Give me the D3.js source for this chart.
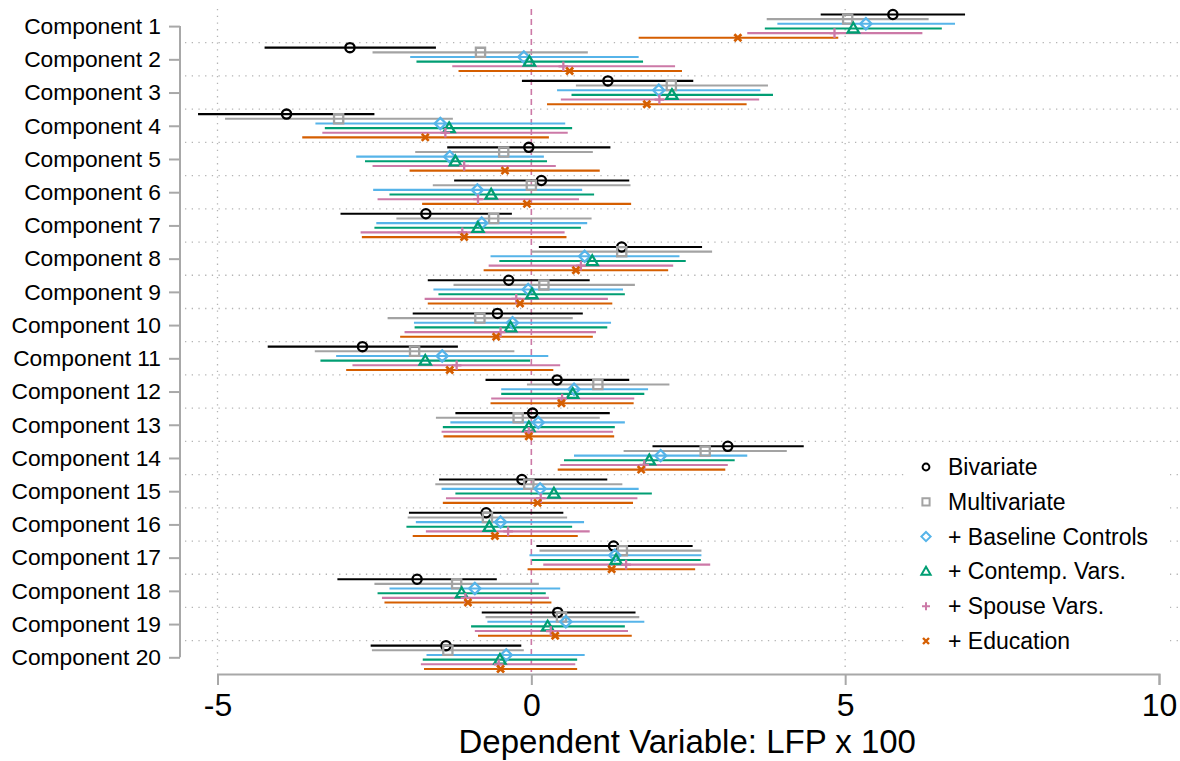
<!DOCTYPE html>
<html><head><meta charset="utf-8">
<script src="https://cdn.jsdelivr.net/npm/d3@7"></script>
<style>
html,body{margin:0;padding:0;background:#fff;}
svg{display:block;font-family:"Liberation Sans",Arial,Helvetica,sans-serif;}
</style></head>
<body>
<svg id="chart" width="1180" height="761"></svg>
<script>
const components = d3.range(1, 21).map(i => "Component " + i);
const seriesNames = ["Bivariate", "Multivariate", "+ Baseline Controls", "+ Contemp. Vars.", "+ Spouse Vars.", "+ Education"];
const xTicks = [-5, 0, 5, 10];
const xGridTicks = [-5, 5];
const xTitle = "Dependent Variable: LFP x 100";

const bivariateEst = [5.76, -2.89, 1.22, -3.90, -0.04, 0.16, -1.68, 1.44, -0.36, -0.54, -2.69, 0.41, 0.02, 3.13, -0.15, -0.72, 1.31, -1.82, 0.42, -1.36];
const bivariateLo  = [4.61, -4.25, -0.15, -5.31, -1.34, -1.23, -3.04, 0.12, -1.65, -1.89, -4.20, -0.73, -1.21, 1.93, -1.47, -1.95, 0.08, -3.09, -0.79, -2.56];
const bivariateHi  = [6.91, -1.52, 2.58, -2.50, 1.26, 1.56, -0.31, 2.72, 0.93, 0.82, -1.17, 1.56, 1.25, 4.34, 1.21, 0.51, 2.57, -0.55, 1.66, -0.16];

const multivariateEst = [5.04, -0.81, 2.23, -3.07, -0.44, 0.00, -0.60, 1.44, 0.20, -0.82, -1.86, 1.06, -0.21, 2.77, -0.04, -0.70, 1.45, -1.19, 0.48, -1.33];
const multivariateLo  = [3.75, -2.53, 0.71, -4.88, -1.85, -1.57, -2.15, 0.00, -1.24, -2.29, -3.45, -0.07, -1.52, 1.47, -1.53, -1.97, 0.13, -2.50, -0.73, -2.54];
const multivariateHi  = [6.33, 0.90, 3.77, -1.25, 0.98, 1.58, 0.96, 2.88, 1.65, 0.66, -0.27, 2.20, 1.09, 4.07, 1.45, 0.57, 2.71, 0.12, 1.72, -0.12];

const baselineEst = [5.33, -0.12, 2.03, -1.45, -1.30, -0.86, -0.79, 0.85, -0.05, -0.30, -1.42, 0.68, 0.11, 2.06, 0.14, -0.49, 1.33, -0.90, 0.55, -0.40];
const baselineLo  = [3.92, -1.93, 0.41, -3.44, -2.79, -2.52, -2.47, -0.65, -1.56, -1.87, -3.11, -0.48, -1.29, 0.68, -1.43, -1.84, -0.03, -2.26, -0.70, -1.67];
const baselineHi  = [6.75, 1.71, 3.65, 0.54, 0.20, 0.81, 0.89, 2.36, 1.46, 1.27, 0.27, 1.86, 1.49, 3.44, 1.71, 0.84, 2.71, 0.46, 1.80, 0.85];

const contempEst = [5.13, -0.03, 2.24, -1.31, -1.21, -0.64, -0.85, 0.97, 0.01, -0.33, -1.69, 0.66, -0.04, 1.88, 0.36, -0.67, 1.35, -1.11, 0.26, -0.50];
const contempLo  = [3.72, -1.83, 0.64, -3.29, -2.65, -2.26, -2.50, -0.51, -1.48, -1.86, -3.36, -0.48, -1.41, 0.52, -1.21, -1.99, 0.01, -2.45, -0.96, -1.73];
const contempHi  = [6.54, 1.78, 3.85, 0.65, 0.25, 1.00, 0.79, 2.46, 1.49, 1.21, -0.02, 1.80, 1.33, 3.24, 1.92, 0.65, 2.70, 0.23, 1.49, 0.73];

const spouseEst = [4.83, 0.51, 2.04, -1.37, -1.07, -0.85, -1.10, 0.79, -0.24, -0.49, -1.19, 0.49, -0.04, 1.80, 0.15, -0.37, 1.51, -1.05, 0.31, -0.52];
const spouseLo  = [3.44, -1.26, 0.47, -3.33, -2.53, -2.45, -2.72, -0.68, -1.70, -2.02, -2.85, -0.64, -1.43, 0.46, -1.36, -1.68, 0.19, -2.38, -0.90, -1.76];
const spouseHi  = [6.23, 2.29, 3.63, 0.58, 0.39, 0.76, 0.53, 2.26, 1.22, 1.03, 0.46, 1.64, 1.30, 3.13, 1.69, 0.93, 2.85, 0.28, 1.54, 0.70];

const educationEst = [3.29, 0.61, 1.84, -1.69, -0.42, -0.07, -1.07, 0.71, -0.18, -0.56, -1.30, 0.48, -0.04, 1.75, 0.10, -0.58, 1.28, -1.01, 0.38, -0.49];
const educationLo  = [1.71, -1.16, 0.25, -3.65, -1.94, -1.74, -2.70, -0.76, -1.65, -2.09, -2.95, -0.65, -1.40, 0.42, -1.41, -1.89, -0.06, -2.34, -0.85, -1.71];
const educationHi  = [4.89, 2.40, 3.43, 0.28, 1.09, 1.59, 0.56, 2.18, 1.29, 0.98, 0.35, 1.63, 1.32, 3.09, 1.62, 0.74, 2.61, 0.32, 1.60, 0.73];

const seriesColors = ["#000000", "#a3a3a3", "#56b4e9", "#009e73", "#cc79a7", "#d55e00"];
const seriesShapes = ["circle", "square", "diamond", "triangle", "plus", "x"];
const seriesData = [
  [bivariateEst, bivariateLo, bivariateHi],
  [multivariateEst, multivariateLo, multivariateHi],
  [baselineEst, baselineLo, baselineHi],
  [contempEst, contempLo, contempHi],
  [spouseEst, spouseLo, spouseHi],
  [educationEst, educationLo, educationHi]
];

const svg = d3.select("#chart");
const x = d3.scaleLinear().domain([-5, 10]).range([217.5, 1159]);
const y = d3.scalePoint().domain(components).range([26.1, 657.3]);
const seriesOffset = d3.scaleLinear().domain([0, 5]).range([-11.65, 11.65]);
const axisColor = "#a8a8a8";
const gridColor = "#b4b4b4";
const plotTop = 9, plotBottom = 672, plotLeft = 185, plotRight = 1180;

// horizontal grid lines between components
const gridG = svg.append("g");
for (let i = 0; i < components.length - 1; i++) {
  const gy = (y(components[i]) + y(components[i + 1])) / 2;
  gridG.append("line").attr("x1", plotLeft).attr("x2", plotRight).attr("y1", gy).attr("y2", gy)
    .attr("stroke", gridColor).attr("stroke-width", 1.3).attr("stroke-dasharray", "1.3,5.4");
}
// vertical grid lines
xGridTicks.forEach(t => {
  gridG.append("line").attr("x1", x(t)).attr("x2", x(t)).attr("y1", plotTop).attr("y2", plotBottom)
    .attr("stroke", gridColor).attr("stroke-width", 1.3).attr("stroke-dasharray", "1.3,5.4");
});
// zero reference line
svg.append("line").attr("x1", x(0)).attr("x2", x(0)).attr("y1", plotTop).attr("y2", plotBottom)
  .attr("stroke", "#cc79a7").attr("stroke-width", 1.6).attr("stroke-dasharray", "6,4");

// CI lines
const ciG = svg.append("g");
seriesData.forEach((s, si) => {
  const [est, lo, hi] = s;
  components.forEach((c, ci) => {
    const yy = y(c) + seriesOffset(si);
    ciG.append("line").attr("x1", x(lo[ci])).attr("x2", x(hi[ci])).attr("y1", yy).attr("y2", yy)
      .attr("stroke", seriesColors[si]).attr("stroke-width", 2.1);
  });
});

function markerPath(shape, s) {
  switch (shape) {
    case "circle": return `M${-s},0A${s},${s} 0 1,0 ${s},0A${s},${s} 0 1,0 ${-s},0Z`;
    case "square": return `M${-s},${-s}H${s}V${s}H${-s}Z`;
    case "diamond": return `M0,${-s}L${s},0L0,${s}L${-s},0Z`;
    case "triangle": return `M0,${-s * 1.05}L${s * 1.05},${s * 0.75}L${-s * 1.05},${s * 0.75}Z`;
    case "plus": return `M${-s},0H${s}M0,${-s}V${s}`;
    case "x": return `M${-s},${-s}L${s},${s}M${-s},${s}L${s},${-s}`;
  }
}
const markerSize = [4.6, 4.6, 5.6, 5.4, 4.8, 3.5];
const markerSizeLegend = [3.4, 3.6, 4.6, 4.4, 4.0, 3.0];

const mkG = svg.append("g");
seriesData.forEach((s, si) => {
  const [est] = s;
  components.forEach((c, ci) => {
    const yy = y(c) + seriesOffset(si);
    mkG.append("path").attr("d", markerPath(seriesShapes[si], markerSize[si]))
      .attr("transform", `translate(${x(est[ci])},${yy})`)
      .attr("fill", "none").attr("stroke", seriesColors[si])
      .attr("stroke-width", seriesShapes[si] === "x" ? 2.7 : 2.3);
  });
});

// x axis
const xAxisG = svg.append("g").attr("transform", `translate(0,${674})`)
  .call(d3.axisBottom(x).tickValues(xTicks).tickSize(11).tickPadding(8).tickFormat(d3.format("d")));
xAxisG.select(".domain").attr("stroke", axisColor).attr("stroke-width", 2);
xAxisG.selectAll(".tick line").attr("stroke", axisColor).attr("stroke-width", 2);
xAxisG.selectAll(".tick text").attr("font-size", 32).attr("fill", "#000")
  .attr("font-family", "'Liberation Sans',Arial,sans-serif").text(d => d < 0 ? "-" + Math.abs(d) : d);

svg.append("text").attr("x", x(2.5) - 1).attr("y", 753).attr("text-anchor", "middle")
  .attr("font-size", 33).attr("fill", "#000").text(xTitle);

// y axis
const yAxisG = svg.append("g").attr("transform", `translate(180,0)`)
  .call(d3.axisLeft(y).tickSize(11).tickPadding(8));
yAxisG.select(".domain").attr("stroke", axisColor).attr("stroke-width", 2)
  .attr("d", `M0,${y(components[0])}V${y(components[components.length - 1])}`);
yAxisG.selectAll(".tick line").attr("stroke", axisColor).attr("stroke-width", 2);
yAxisG.selectAll(".tick text").attr("font-size", 22.8).attr("fill", "#000")
  .attr("font-family", "'Liberation Sans',Arial,sans-serif");

// legend
const legG = svg.append("g");
legG.append("rect").attr("x", 908).attr("y", 450).attr("width", 262).attr("height", 207).attr("fill", "#fff");
seriesNames.forEach((n, i) => {
  const ly = 467 + i * 34.8;
  legG.append("path").attr("d", markerPath(seriesShapes[i], markerSizeLegend[i]))
    .attr("transform", `translate(926,${ly})`).attr("fill", "none")
    .attr("stroke", seriesColors[i]).attr("stroke-width", seriesShapes[i] === "x" ? 2.4 : 2);
  legG.append("text").attr("x", 948).attr("y", ly).attr("dy", "0.35em")
    .attr("font-size", 23).attr("fill", "#000").text(n);
});
</script>
</body></html>
